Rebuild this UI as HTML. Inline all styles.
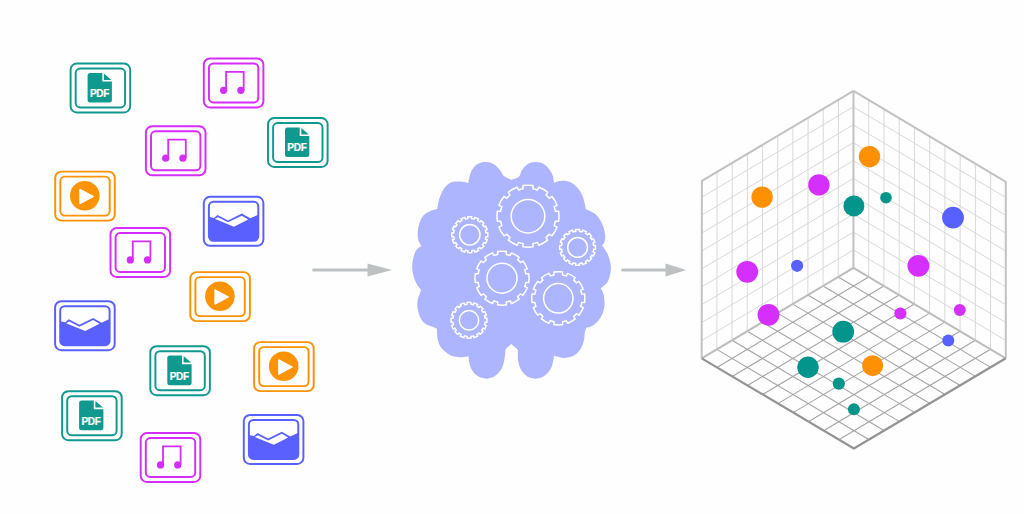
<!DOCTYPE html>
<html><head><meta charset="utf-8"><style>
html,body{margin:0;padding:0;background:#fff;width:1024px;height:514px;overflow:hidden}
svg{display:block}
.pdf{font-family:"Liberation Sans",sans-serif;font-weight:bold;font-size:10px;fill:#fff;stroke:#fff;stroke-width:0.2px;text-anchor:middle;letter-spacing:-0.3px}
</style></head><body>
<svg width="1024" height="514" viewBox="0 0 1024 514">
<rect width="1024" height="514" fill="#fefefe"/>
<rect x="70.6" y="63.5" width="59.6" height="49" rx="6.2" fill="none" stroke="#10998f" stroke-width="1.95"/>
<rect x="75.7" y="68.5" width="49.4" height="39" rx="4.5" fill="none" stroke="#10998f" stroke-width="1.95"/>
<path d="M90.1,72.9 L102.3,72.9 L102.3,81.6 L111.9,81.6 L111.9,100.1 Q111.9,102.6 109.4,102.6 L90.1,102.6 Q87.6,102.6 87.6,100.1 L87.6,75.4 Q87.6,72.9 90.1,72.9 Z" fill="#10998f"/>
<path d="M103.9,73.4 L103.9,79.9 L111.4,79.9 Z" fill="#10998f"/>
<text x="99.5" y="96.9" class="pdf">PDF</text>
<rect x="268" y="118" width="59.6" height="49" rx="6.2" fill="none" stroke="#10998f" stroke-width="1.95"/>
<rect x="273.1" y="123" width="49.4" height="39" rx="4.5" fill="none" stroke="#10998f" stroke-width="1.95"/>
<path d="M287.5,127.4 L299.7,127.4 L299.7,136.1 L309.3,136.1 L309.3,154.6 Q309.3,157.1 306.8,157.1 L287.5,157.1 Q285,157.1 285,154.6 L285,129.9 Q285,127.4 287.5,127.4 Z" fill="#10998f"/>
<path d="M301.3,127.9 L301.3,134.4 L308.8,134.4 Z" fill="#10998f"/>
<text x="296.9" y="151.4" class="pdf">PDF</text>
<rect x="150.3" y="346.2" width="59.6" height="49" rx="6.2" fill="none" stroke="#10998f" stroke-width="1.95"/>
<rect x="155.4" y="351.2" width="49.4" height="39" rx="4.5" fill="none" stroke="#10998f" stroke-width="1.95"/>
<path d="M169.8,355.6 L182,355.6 L182,364.3 L191.6,364.3 L191.6,382.8 Q191.6,385.3 189.1,385.3 L169.8,385.3 Q167.3,385.3 167.3,382.8 L167.3,358.1 Q167.3,355.6 169.8,355.6 Z" fill="#10998f"/>
<path d="M183.6,356.1 L183.6,362.6 L191.1,362.6 Z" fill="#10998f"/>
<text x="179.2" y="379.6" class="pdf">PDF</text>
<rect x="62.1" y="391.2" width="59.6" height="49" rx="6.2" fill="none" stroke="#10998f" stroke-width="1.95"/>
<rect x="67.2" y="396.2" width="49.4" height="39" rx="4.5" fill="none" stroke="#10998f" stroke-width="1.95"/>
<path d="M81.6,400.6 L93.8,400.6 L93.8,409.3 L103.4,409.3 L103.4,427.8 Q103.4,430.3 100.9,430.3 L81.6,430.3 Q79.1,430.3 79.1,427.8 L79.1,403.1 Q79.1,400.6 81.6,400.6 Z" fill="#10998f"/>
<path d="M95.4,401.1 L95.4,407.6 L102.9,407.6 Z" fill="#10998f"/>
<text x="91" y="424.6" class="pdf">PDF</text>
<rect x="203.8" y="58.4" width="59.6" height="49" rx="6.2" fill="none" stroke="#d52dfb" stroke-width="1.95"/>
<rect x="208.9" y="63.4" width="49.4" height="39" rx="4.5" fill="none" stroke="#d52dfb" stroke-width="1.95"/>
<path d="M226.1,90.2 V71.8 H243.7 V90.2" fill="none" stroke="#d52dfb" stroke-width="1.8" stroke-linejoin="miter"/>
<circle cx="223.6" cy="90.3" r="3.6" fill="#d52dfb"/>
<circle cx="240.8" cy="90.3" r="3.6" fill="#d52dfb"/>
<rect x="145.9" y="126.3" width="59.6" height="49" rx="6.2" fill="none" stroke="#d52dfb" stroke-width="1.95"/>
<rect x="151" y="131.3" width="49.4" height="39" rx="4.5" fill="none" stroke="#d52dfb" stroke-width="1.95"/>
<path d="M168.2,158.1 V139.7 H185.8 V158.1" fill="none" stroke="#d52dfb" stroke-width="1.8" stroke-linejoin="miter"/>
<circle cx="165.7" cy="158.2" r="3.6" fill="#d52dfb"/>
<circle cx="182.9" cy="158.2" r="3.6" fill="#d52dfb"/>
<rect x="110.5" y="228" width="59.6" height="49" rx="6.2" fill="none" stroke="#d52dfb" stroke-width="1.95"/>
<rect x="115.6" y="233" width="49.4" height="39" rx="4.5" fill="none" stroke="#d52dfb" stroke-width="1.95"/>
<path d="M132.8,259.8 V241.4 H150.4 V259.8" fill="none" stroke="#d52dfb" stroke-width="1.8" stroke-linejoin="miter"/>
<circle cx="130.3" cy="259.9" r="3.6" fill="#d52dfb"/>
<circle cx="147.5" cy="259.9" r="3.6" fill="#d52dfb"/>
<rect x="140.7" y="433" width="59.6" height="49" rx="6.2" fill="none" stroke="#d52dfb" stroke-width="1.95"/>
<rect x="145.8" y="438" width="49.4" height="39" rx="4.5" fill="none" stroke="#d52dfb" stroke-width="1.95"/>
<path d="M163,464.8 V446.4 H180.6 V464.8" fill="none" stroke="#d52dfb" stroke-width="1.8" stroke-linejoin="miter"/>
<circle cx="160.5" cy="464.9" r="3.6" fill="#d52dfb"/>
<circle cx="177.7" cy="464.9" r="3.6" fill="#d52dfb"/>
<rect x="55.2" y="171.6" width="59.6" height="49" rx="6.2" fill="none" stroke="#fb9304" stroke-width="1.95"/>
<rect x="60.3" y="176.6" width="49.4" height="39" rx="4.5" fill="none" stroke="#fb9304" stroke-width="1.95"/>
<circle cx="84.8" cy="195.8" r="14.8" fill="#fb9304"/>
<path d="M79.8,189.1 L79.8,203.9 L93.6,196.5 Z" fill="#fff" stroke="#fff" stroke-width="1" stroke-linejoin="round"/>
<rect x="190.3" y="272.1" width="59.6" height="49" rx="6.2" fill="none" stroke="#fb9304" stroke-width="1.95"/>
<rect x="195.4" y="277.1" width="49.4" height="39" rx="4.5" fill="none" stroke="#fb9304" stroke-width="1.95"/>
<circle cx="219.9" cy="296.3" r="14.8" fill="#fb9304"/>
<path d="M214.9,289.6 L214.9,304.4 L228.7,297 Z" fill="#fff" stroke="#fff" stroke-width="1" stroke-linejoin="round"/>
<rect x="254.1" y="342.1" width="59.6" height="49" rx="6.2" fill="none" stroke="#fb9304" stroke-width="1.95"/>
<rect x="259.2" y="347.1" width="49.4" height="39" rx="4.5" fill="none" stroke="#fb9304" stroke-width="1.95"/>
<circle cx="283.7" cy="366.3" r="14.8" fill="#fb9304"/>
<path d="M278.7,359.6 L278.7,374.4 L292.5,367 Z" fill="#fff" stroke="#fff" stroke-width="1" stroke-linejoin="round"/>
<rect x="203.8" y="196.8" width="59.6" height="49" rx="6.2" fill="none" stroke="#5a60fe" stroke-width="1.95"/>
<rect x="208.9" y="201.8" width="49.4" height="39" rx="4.5" fill="none" stroke="#5a60fe" stroke-width="1.95"/>
<path d="M208.9,216.8 L213.9,217.9 L217.5,214.9 L228.1,220.4 L241.8,213.6 L250.2,218.3 L258.3,214.7 L258.3,236.3 Q258.3,240.8 253.8,240.8 L213.4,240.8 Q208.9,240.8 208.9,236.3 Z M214.7,218.8 L218,217.2 L228.1,222.3 L241.8,215.7 L248.2,219.4 L233.9,226.7 Z" fill="#5a60fe" fill-rule="evenodd"/>
<rect x="55.1" y="301.2" width="59.6" height="49" rx="6.2" fill="none" stroke="#5a60fe" stroke-width="1.95"/>
<rect x="60.2" y="306.2" width="49.4" height="39" rx="4.5" fill="none" stroke="#5a60fe" stroke-width="1.95"/>
<path d="M60.2,321.2 L65.2,322.3 L68.8,319.3 L79.4,324.8 L93.1,318 L101.5,322.7 L109.6,319.1 L109.6,340.7 Q109.6,345.2 105.1,345.2 L64.7,345.2 Q60.2,345.2 60.2,340.7 Z M66,323.2 L69.3,321.6 L79.4,326.7 L93.1,320.1 L99.5,323.8 L85.2,331.1 Z" fill="#5a60fe" fill-rule="evenodd"/>
<rect x="243.8" y="414.9" width="59.6" height="49" rx="6.2" fill="none" stroke="#5a60fe" stroke-width="1.95"/>
<rect x="248.9" y="419.9" width="49.4" height="39" rx="4.5" fill="none" stroke="#5a60fe" stroke-width="1.95"/>
<path d="M248.9,434.9 L253.9,436 L257.5,433 L268.1,438.5 L281.8,431.7 L290.2,436.4 L298.3,432.8 L298.3,454.4 Q298.3,458.9 293.8,458.9 L253.4,458.9 Q248.9,458.9 248.9,454.4 Z M254.7,436.9 L258,435.3 L268.1,440.4 L281.8,433.8 L288.2,437.5 L273.9,444.8 Z" fill="#5a60fe" fill-rule="evenodd"/>
<line x1="313.6" y1="270" x2="367.5" y2="270" stroke="#bec1c3" stroke-width="3" stroke-linecap="round"/>
<path d="M367.5,263.6 L367.5,276.4 L392.2,270 Z" fill="#bec1c3"/>
<line x1="622.6" y1="270" x2="665.5" y2="270" stroke="#bec1c3" stroke-width="3" stroke-linecap="round"/>
<path d="M665.5,263.6 L665.5,276.4 L686.2,270 Z" fill="#bec1c3"/>
<path d="M468.3,183.2 C468.48,182.22 468.83,179.4 469.4,177.3 C469.97,175.2 470.6,172.63 471.7,170.6 C472.8,168.57 474.37,166.47 476,165.1 C477.63,163.73 479.68,162.92 481.5,162.4 C483.32,161.88 485.08,161.8 486.9,162 C488.72,162.2 490.72,162.82 492.4,163.6 C494.08,164.38 495.58,165.42 497,166.7 C498.42,167.98 499.78,169.75 500.9,171.3 C502.02,172.85 501.95,174.57 503.7,176 C505.45,177.43 510.12,179.25 511.4,179.9 C512.67,179.38 517.28,178.35 519,176.8 C520.72,175.25 520.53,172.48 521.7,170.6 C522.87,168.72 524.5,166.8 526,165.5 C527.5,164.2 529.13,163.4 530.7,162.8 C532.27,162.2 533.72,161.9 535.4,161.9 C537.08,161.9 538.98,162.13 540.8,162.8 C542.62,163.47 544.75,164.6 546.3,165.9 C547.85,167.2 549,168.92 550.1,170.6 C551.2,172.28 552.25,173.93 552.9,176 C553.55,178.07 553.82,181.83 554,183 C554.8,182.68 557.03,181.47 558.8,181.1 C560.57,180.73 562.42,180.48 564.6,180.8 C566.78,181.12 569.58,181.65 571.9,183 C574.22,184.35 576.67,186.58 578.5,188.9 C580.33,191.22 581.82,194.23 582.9,196.9 C583.98,199.57 584.52,202.83 585,204.9 C585.48,206.97 585.67,208.57 585.8,209.3 C586.65,209.67 589.08,210.52 590.9,211.5 C592.72,212.48 595,213.5 596.7,215.2 C598.4,216.9 599.88,219.4 601.1,221.7 C602.32,224 603.32,226.57 604,229 C604.68,231.43 605.12,234.13 605.2,236.3 C605.28,238.47 605.03,240.48 604.5,242 C603.97,243.52 602.42,244.83 602,245.4 C602.35,245.87 603.18,246.83 604.1,248.2 C605.02,249.57 606.55,251.57 607.5,253.6 C608.45,255.63 609.23,258.13 609.8,260.4 C610.37,262.67 610.83,264.92 610.9,267.2 C610.97,269.48 610.67,271.82 610.2,274.1 C609.73,276.38 609.02,279.08 608.1,280.9 C607.18,282.72 605.93,283.75 604.7,285 C603.47,286.25 601.37,287.83 600.7,288.4 C601.03,288.97 602.13,290.33 602.7,291.8 C603.27,293.27 603.8,295.5 604.1,297.2 C604.4,298.9 604.43,300.62 604.5,302 C604.57,303.38 604.73,303.78 604.5,305.5 C604.27,307.22 603.78,310.27 603.1,312.3 C602.42,314.33 601.63,315.88 600.4,317.7 C599.17,319.52 597.28,321.72 595.7,323.2 C594.12,324.68 592.5,325.82 590.9,326.6 C589.3,327.38 586.9,327.68 586.1,327.9 C585.88,328.7 585.13,330.77 584.8,332.7 C584.47,334.63 584.57,337.23 584.1,339.5 C583.63,341.77 583.03,344.13 582,346.3 C580.97,348.47 579.6,350.78 577.9,352.5 C576.2,354.22 574.18,355.7 571.8,356.6 C569.42,357.5 566.1,357.9 563.6,357.9 C561.1,357.9 558.38,357 556.8,356.6 C555.22,356.2 554.55,355.68 554.1,355.5 C553.92,356.6 553.53,359.93 553,362.1 C552.47,364.27 551.97,366.53 550.9,368.5 C549.83,370.47 548.2,372.38 546.6,373.9 C545,375.42 543.17,376.8 541.3,377.6 C539.43,378.4 537.37,378.7 535.4,378.7 C533.43,378.7 531.37,378.4 529.5,377.6 C527.63,376.8 525.72,375.42 524.2,373.9 C522.68,372.38 521.38,370.47 520.4,368.5 C519.42,366.53 518.73,364.23 518.3,362.1 C517.87,359.97 517.88,357.67 517.8,355.7 C517.72,353.73 518.08,351.55 517.8,350.3 C517.52,349.05 517.18,349.27 516.1,348.2 C515.02,347.13 512.1,344.62 511.3,343.9 C510.5,344.62 507.47,347.13 506.5,348.2 C505.53,349.27 505.77,349.05 505.5,350.3 C505.23,351.55 505.17,353.73 504.9,355.7 C504.63,357.67 504.43,359.97 503.9,362.1 C503.37,364.23 502.78,366.53 501.7,368.5 C500.62,370.47 499,372.38 497.4,373.9 C495.8,375.42 493.88,376.8 492.1,377.6 C490.32,378.4 488.57,378.7 486.7,378.7 C484.83,378.7 482.85,378.4 480.9,377.6 C478.95,376.8 476.62,375.42 475,373.9 C473.38,372.38 472.18,370.47 471.2,368.5 C470.22,366.53 469.53,364.15 469.1,362.1 C468.67,360.05 468.68,357.18 468.6,356.2 C467.6,356.37 465.07,357.15 462.6,357.2 C460.13,357.25 456.48,357.23 453.8,356.5 C451.12,355.77 448.68,354.38 446.5,352.8 C444.32,351.22 442.15,349.18 440.7,347 C439.25,344.82 438.42,342.13 437.8,339.7 C437.18,337.27 437.13,334.23 437,332.4 C436.87,330.57 437,329.32 437,328.7 C436.15,328.33 433.72,327.23 431.9,326.5 C430.08,325.77 427.8,325.4 426.1,324.3 C424.4,323.2 422.92,321.72 421.7,319.9 C420.48,318.08 419.53,315.7 418.8,313.4 C418.07,311.1 417.43,308.53 417.3,306.1 C417.17,303.67 417.5,301.05 418,298.8 C418.5,296.55 419.83,294.13 420.3,292.6 C420.77,291.07 420.72,290.1 420.8,289.6 C420.03,288.48 417.47,285.37 416.2,282.9 C414.93,280.43 413.87,277.52 413.2,274.8 C412.53,272.08 412.2,269.33 412.2,266.6 C412.2,263.87 412.53,261.13 413.2,258.4 C413.87,255.67 414.83,252.25 416.2,250.2 C417.57,248.15 420.53,246.78 421.4,246.1 C420.88,245.08 418.92,242.38 418.3,240 C417.68,237.62 417.53,234.53 417.7,231.8 C417.87,229.07 418.35,226.33 419.3,223.6 C420.25,220.87 421.7,217.43 423.4,215.4 C425.1,213.37 427.18,212.45 429.5,211.4 C431.82,210.35 436,209.48 437.3,209.1 C437.57,207.63 438.27,202.83 438.9,200.3 C439.53,197.77 440.12,196.03 441.1,193.9 C442.08,191.77 443.38,189.28 444.8,187.5 C446.22,185.72 447.9,184.18 449.6,183.2 C451.3,182.22 453.22,181.87 455,181.6 C456.78,181.33 458.7,181.52 460.3,181.6 C461.9,181.68 463.27,181.83 464.6,182.1 C465.93,182.37 467.68,183.02 468.3,183.2 Z" fill="#adb5fe"/>
<g fill="none" stroke="#ffffff" stroke-width="1.5">
<path d="M523,188.85 L522.99,185.61 A31,31 0 0 1 533.01,185.61 L533,188.85 A27.8,27.8 0 0 1 537.34,190.02 L538.96,187.2 A31,31 0 0 1 547.63,192.21 L546.01,195.02 A27.8,27.8 0 0 1 549.18,198.19 L551.99,196.57 A31,31 0 0 1 557,205.24 L554.18,206.86 A27.8,27.8 0 0 1 555.35,211.2 L558.59,211.19 A31,31 0 0 1 558.59,221.21 L555.35,221.2 A27.8,27.8 0 0 1 554.18,225.54 L557,227.16 A31,31 0 0 1 551.99,235.83 L549.18,234.21 A27.8,27.8 0 0 1 546.01,237.38 L547.63,240.19 A31,31 0 0 1 538.96,245.2 L537.34,242.38 A27.8,27.8 0 0 1 533,243.55 L533.01,246.79 A31,31 0 0 1 522.99,246.79 L523,243.55 A27.8,27.8 0 0 1 518.66,242.38 L517.04,245.2 A31,31 0 0 1 508.37,240.19 L509.99,237.38 A27.8,27.8 0 0 1 506.82,234.21 L504.01,235.83 A31,31 0 0 1 499,227.16 L501.82,225.54 A27.8,27.8 0 0 1 500.65,221.2 L497.41,221.21 A31,31 0 0 1 497.41,211.19 L500.65,211.2 A27.8,27.8 0 0 1 501.82,206.86 L499,205.24 A31,31 0 0 1 504.01,196.57 L506.82,198.19 A27.8,27.8 0 0 1 509.99,195.02 L508.37,192.21 A31,31 0 0 1 517.04,187.2 L518.66,190.02 A27.8,27.8 0 0 1 523,188.85 Z"/>
<circle cx="528" cy="216.2" r="16.8"/>
<path d="M467.86,218.62 L467.86,216.8 A18,18 0 0 1 471.74,216.8 L471.74,218.62 A16.2,16.2 0 0 1 474.16,219.1 L474.86,217.42 A18,18 0 0 1 478.44,218.91 L477.75,220.58 A16.2,16.2 0 0 1 479.8,221.96 L481.08,220.67 A18,18 0 0 1 483.83,223.42 L482.54,224.7 A16.2,16.2 0 0 1 483.92,226.75 L485.59,226.06 A18,18 0 0 1 487.08,229.64 L485.4,230.34 A16.2,16.2 0 0 1 485.88,232.76 L487.7,232.76 A18,18 0 0 1 487.7,236.64 L485.88,236.64 A16.2,16.2 0 0 1 485.4,239.06 L487.08,239.76 A18,18 0 0 1 485.59,243.34 L483.92,242.65 A16.2,16.2 0 0 1 482.54,244.7 L483.83,245.98 A18,18 0 0 1 481.08,248.73 L479.8,247.44 A16.2,16.2 0 0 1 477.75,248.82 L478.44,250.49 A18,18 0 0 1 474.86,251.98 L474.16,250.3 A16.2,16.2 0 0 1 471.74,250.78 L471.74,252.6 A18,18 0 0 1 467.86,252.6 L467.86,250.78 A16.2,16.2 0 0 1 465.44,250.3 L464.74,251.98 A18,18 0 0 1 461.16,250.49 L461.85,248.82 A16.2,16.2 0 0 1 459.8,247.44 L458.52,248.73 A18,18 0 0 1 455.77,245.98 L457.06,244.7 A16.2,16.2 0 0 1 455.68,242.65 L454.01,243.34 A18,18 0 0 1 452.52,239.76 L454.2,239.06 A16.2,16.2 0 0 1 453.72,236.64 L451.9,236.64 A18,18 0 0 1 451.9,232.76 L453.72,232.76 A16.2,16.2 0 0 1 454.2,230.34 L452.52,229.64 A18,18 0 0 1 454.01,226.06 L455.68,226.75 A16.2,16.2 0 0 1 457.06,224.7 L455.77,223.42 A18,18 0 0 1 458.52,220.67 L459.8,221.96 A16.2,16.2 0 0 1 461.85,220.58 L461.16,218.91 A18,18 0 0 1 464.74,217.42 L465.44,219.1 A16.2,16.2 0 0 1 467.86,218.62 Z"/>
<circle cx="469.8" cy="234.7" r="10.2"/>
<path d="M575.67,231.42 L575.67,229.6 A17.9,17.9 0 0 1 579.53,229.6 L579.53,231.42 A16.1,16.1 0 0 1 581.94,231.89 L582.63,230.22 A17.9,17.9 0 0 1 586.19,231.7 L585.5,233.37 A16.1,16.1 0 0 1 587.54,234.73 L588.82,233.45 A17.9,17.9 0 0 1 591.55,236.18 L590.27,237.46 A16.1,16.1 0 0 1 591.63,239.5 L593.3,238.81 A17.9,17.9 0 0 1 594.78,242.37 L593.11,243.06 A16.1,16.1 0 0 1 593.58,245.47 L595.4,245.47 A17.9,17.9 0 0 1 595.4,249.33 L593.58,249.33 A16.1,16.1 0 0 1 593.11,251.74 L594.78,252.43 A17.9,17.9 0 0 1 593.3,255.99 L591.63,255.3 A16.1,16.1 0 0 1 590.27,257.34 L591.55,258.62 A17.9,17.9 0 0 1 588.82,261.35 L587.54,260.07 A16.1,16.1 0 0 1 585.5,261.43 L586.19,263.1 A17.9,17.9 0 0 1 582.63,264.58 L581.94,262.91 A16.1,16.1 0 0 1 579.53,263.38 L579.53,265.2 A17.9,17.9 0 0 1 575.67,265.2 L575.67,263.38 A16.1,16.1 0 0 1 573.26,262.91 L572.57,264.58 A17.9,17.9 0 0 1 569.01,263.1 L569.7,261.43 A16.1,16.1 0 0 1 567.66,260.07 L566.38,261.35 A17.9,17.9 0 0 1 563.65,258.62 L564.93,257.34 A16.1,16.1 0 0 1 563.57,255.3 L561.9,255.99 A17.9,17.9 0 0 1 560.42,252.43 L562.09,251.74 A16.1,16.1 0 0 1 561.62,249.33 L559.8,249.33 A17.9,17.9 0 0 1 559.8,245.47 L561.62,245.47 A16.1,16.1 0 0 1 562.09,243.06 L560.42,242.37 A17.9,17.9 0 0 1 561.9,238.81 L563.57,239.5 A16.1,16.1 0 0 1 564.93,237.46 L563.65,236.18 A17.9,17.9 0 0 1 566.38,233.45 L567.66,234.73 A16.1,16.1 0 0 1 569.7,233.37 L569.01,231.7 A17.9,17.9 0 0 1 572.57,230.22 L573.26,231.89 A16.1,16.1 0 0 1 575.67,231.42 Z"/>
<circle cx="577.6" cy="247.4" r="9.9"/>
<path d="M497.64,254.4 L497.64,251.55 A27,27 0 0 1 506.36,251.55 L506.36,254.4 A24.2,24.2 0 0 1 510.13,255.41 L511.54,252.94 A27,27 0 0 1 519.1,257.31 L517.68,259.76 A24.2,24.2 0 0 1 520.44,262.52 L522.89,261.1 A27,27 0 0 1 527.26,268.66 L524.79,270.07 A24.2,24.2 0 0 1 525.8,273.84 L528.65,273.84 A27,27 0 0 1 528.65,282.56 L525.8,282.56 A24.2,24.2 0 0 1 524.79,286.33 L527.26,287.74 A27,27 0 0 1 522.89,295.3 L520.44,293.88 A24.2,24.2 0 0 1 517.68,296.64 L519.1,299.09 A27,27 0 0 1 511.54,303.46 L510.13,300.99 A24.2,24.2 0 0 1 506.36,302 L506.36,304.85 A27,27 0 0 1 497.64,304.85 L497.64,302 A24.2,24.2 0 0 1 493.87,300.99 L492.46,303.46 A27,27 0 0 1 484.9,299.09 L486.32,296.64 A24.2,24.2 0 0 1 483.56,293.88 L481.11,295.3 A27,27 0 0 1 476.74,287.74 L479.21,286.33 A24.2,24.2 0 0 1 478.2,282.56 L475.35,282.56 A27,27 0 0 1 475.35,273.84 L478.2,273.84 A24.2,24.2 0 0 1 479.21,270.07 L476.74,268.66 A27,27 0 0 1 481.11,261.1 L483.56,262.52 A24.2,24.2 0 0 1 486.32,259.76 L484.9,257.31 A27,27 0 0 1 492.46,252.94 L493.87,255.41 A24.2,24.2 0 0 1 497.64,254.4 Z"/>
<circle cx="502" cy="278.2" r="15"/>
<path d="M554.01,274.89 L554,272.05 A26.6,26.6 0 0 1 562.6,272.05 L562.59,274.89 A23.8,23.8 0 0 1 566.29,275.88 L567.7,273.42 A26.6,26.6 0 0 1 575.15,277.72 L573.72,280.17 A23.8,23.8 0 0 1 576.43,282.88 L578.88,281.45 A26.6,26.6 0 0 1 583.18,288.9 L580.72,290.31 A23.8,23.8 0 0 1 581.71,294.01 L584.55,294 A26.6,26.6 0 0 1 584.55,302.6 L581.71,302.59 A23.8,23.8 0 0 1 580.72,306.29 L583.18,307.7 A26.6,26.6 0 0 1 578.88,315.15 L576.43,313.72 A23.8,23.8 0 0 1 573.72,316.43 L575.15,318.88 A26.6,26.6 0 0 1 567.7,323.18 L566.29,320.72 A23.8,23.8 0 0 1 562.59,321.71 L562.6,324.55 A26.6,26.6 0 0 1 554,324.55 L554.01,321.71 A23.8,23.8 0 0 1 550.31,320.72 L548.9,323.18 A26.6,26.6 0 0 1 541.45,318.88 L542.88,316.43 A23.8,23.8 0 0 1 540.17,313.72 L537.72,315.15 A26.6,26.6 0 0 1 533.42,307.7 L535.88,306.29 A23.8,23.8 0 0 1 534.89,302.59 L532.05,302.6 A26.6,26.6 0 0 1 532.05,294 L534.89,294.01 A23.8,23.8 0 0 1 535.88,290.31 L533.42,288.9 A26.6,26.6 0 0 1 537.72,281.45 L540.17,282.88 A23.8,23.8 0 0 1 542.88,280.17 L541.45,277.72 A26.6,26.6 0 0 1 548.9,273.42 L550.31,275.88 A23.8,23.8 0 0 1 554.01,274.89 Z"/>
<circle cx="558.3" cy="298.3" r="14.7"/>
<path d="M467.06,304.22 L467.06,302.4 A18,18 0 0 1 470.94,302.4 L470.94,304.22 A16.2,16.2 0 0 1 473.36,304.7 L474.06,303.02 A18,18 0 0 1 477.64,304.51 L476.95,306.18 A16.2,16.2 0 0 1 479,307.56 L480.28,306.27 A18,18 0 0 1 483.03,309.02 L481.74,310.3 A16.2,16.2 0 0 1 483.12,312.35 L484.79,311.66 A18,18 0 0 1 486.28,315.24 L484.6,315.94 A16.2,16.2 0 0 1 485.08,318.36 L486.9,318.36 A18,18 0 0 1 486.9,322.24 L485.08,322.24 A16.2,16.2 0 0 1 484.6,324.66 L486.28,325.36 A18,18 0 0 1 484.79,328.94 L483.12,328.25 A16.2,16.2 0 0 1 481.74,330.3 L483.03,331.58 A18,18 0 0 1 480.28,334.33 L479,333.04 A16.2,16.2 0 0 1 476.95,334.42 L477.64,336.09 A18,18 0 0 1 474.06,337.58 L473.36,335.9 A16.2,16.2 0 0 1 470.94,336.38 L470.94,338.2 A18,18 0 0 1 467.06,338.2 L467.06,336.38 A16.2,16.2 0 0 1 464.64,335.9 L463.94,337.58 A18,18 0 0 1 460.36,336.09 L461.05,334.42 A16.2,16.2 0 0 1 459,333.04 L457.72,334.33 A18,18 0 0 1 454.97,331.58 L456.26,330.3 A16.2,16.2 0 0 1 454.88,328.25 L453.21,328.94 A18,18 0 0 1 451.72,325.36 L453.4,324.66 A16.2,16.2 0 0 1 452.92,322.24 L451.1,322.24 A18,18 0 0 1 451.1,318.36 L452.92,318.36 A16.2,16.2 0 0 1 453.4,315.94 L451.72,315.24 A18,18 0 0 1 453.21,311.66 L454.88,312.35 A16.2,16.2 0 0 1 456.26,310.3 L454.97,309.02 A18,18 0 0 1 457.72,306.27 L459,307.56 A16.2,16.2 0 0 1 461.05,306.18 L460.36,304.51 A18,18 0 0 1 463.94,303.02 L464.64,304.7 A16.2,16.2 0 0 1 467.06,304.22 Z"/>
<circle cx="469" cy="320.3" r="9.7"/>
</g>
<path d="M716.87,349.35 L717.07,171.85 M701.72,340.49 L853.42,249.99 M732.04,340.3 L732.24,162.8 M701.74,322.58 L853.44,232.08 M747.21,331.25 L747.41,153.75 M701.76,304.67 L853.46,214.17 M762.38,322.2 L762.58,144.7 M701.78,286.76 L853.48,196.26 M777.55,313.15 L777.75,135.65 M701.8,268.85 L853.5,178.35 M792.72,304.1 L792.92,126.6 M701.82,250.94 L853.52,160.44 M807.89,295.05 L808.09,117.55 M701.84,233.03 L853.54,142.53 M823.06,286 L823.26,108.5 M701.86,215.12 L853.56,124.62 M838.23,276.95 L838.43,99.45 M701.88,197.21 L853.58,106.71 M868.64,276.94 L868.74,99.84 M853.41,250.03 L1005.81,340.43 M883.88,285.98 L883.98,108.88 M853.42,232.16 L1005.82,322.56 M899.12,295.02 L899.22,117.92 M853.43,214.29 L1005.83,304.69 M914.36,304.06 L914.46,126.96 M853.44,196.42 L1005.84,286.82 M929.6,313.1 L929.7,136 M853.45,178.55 L1005.85,268.95 M944.84,322.14 L944.94,145.04 M853.46,160.68 L1005.86,251.08 M960.08,331.18 L960.18,154.08 M853.47,142.81 L1005.87,233.21 M975.32,340.22 L975.42,163.12 M853.48,124.94 L1005.88,215.34 M990.56,349.26 L990.66,172.16 M853.49,107.08 L1005.89,197.48" stroke="#d9d9d9" stroke-width="1" fill="none"/>
<path d="M838.23,276.95 L990.63,367.35 M868.64,276.94 L716.94,367.44 M823.06,286 L975.46,376.4 M883.88,285.98 L732.18,376.48 M807.89,295.05 L960.29,385.45 M899.12,295.02 L747.42,385.52 M792.72,304.1 L945.12,394.5 M914.36,304.06 L762.66,394.56 M777.55,313.15 L929.95,403.55 M929.6,313.1 L777.9,403.6 M762.38,322.2 L914.78,412.6 M944.84,322.14 L793.14,412.64 M747.21,331.25 L899.61,421.65 M960.08,331.18 L808.38,421.68 M732.04,340.3 L884.44,430.7 M975.32,340.22 L823.62,430.72 M716.87,349.35 L869.27,439.75 M990.56,349.26 L838.86,439.76" stroke="#a4a4a4" stroke-width="1.1" fill="none"/>
<path d="M701.7,358.4 L701.9,180.9 L853.5,90.8 M853.5,90.8 L1005.8,181.8 L1005.8,358.3 M853.4,267.9 L853.5,90.8" stroke="#c2c2c2" stroke-width="2" fill="none" stroke-linejoin="round"/>
<path d="M701.7,358.4 L853.4,267.9 L1005.8,358.3" stroke="#bdbdbd" stroke-width="2" fill="none" stroke-linejoin="round"/>
<path d="M701.7,358.4 L853.9,448.5 L1005.8,358.3" stroke="#939393" stroke-width="2.2" fill="none" stroke-linejoin="round"/>
<circle cx="762.1" cy="197.1" r="10.7" fill="#fe9003"/>
<circle cx="818.9" cy="184.9" r="10.7" fill="#d52ffd"/>
<circle cx="869.5" cy="156.6" r="10.7" fill="#fe9003"/>
<circle cx="853.9" cy="205.9" r="10.5" fill="#03948c"/>
<circle cx="886" cy="197.7" r="5.8" fill="#03948c"/>
<circle cx="953" cy="217.6" r="10.9" fill="#5860fe"/>
<circle cx="747.2" cy="271.8" r="10.9" fill="#d52ffd"/>
<circle cx="797.1" cy="265.8" r="6.1" fill="#5860fe"/>
<circle cx="918.4" cy="265.8" r="10.9" fill="#d52ffd"/>
<circle cx="768.5" cy="314.8" r="10.9" fill="#d52ffd"/>
<circle cx="843.2" cy="331.7" r="10.9" fill="#03948c"/>
<circle cx="900.4" cy="313.5" r="6.1" fill="#d52ffd"/>
<circle cx="959.8" cy="309.9" r="6" fill="#d52ffd"/>
<circle cx="948.3" cy="340.4" r="6" fill="#5860fe"/>
<circle cx="808" cy="367.2" r="10.7" fill="#03948c"/>
<circle cx="872.6" cy="365.7" r="10.5" fill="#fe9003"/>
<circle cx="838.8" cy="383.6" r="6.1" fill="#03948c"/>
<circle cx="853.9" cy="409.3" r="6" fill="#03948c"/>
</svg>
</body></html>
